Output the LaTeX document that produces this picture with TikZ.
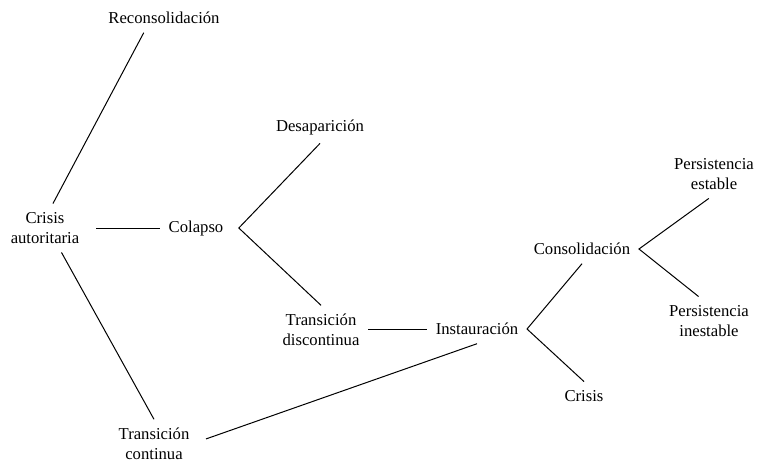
\documentclass[tikz,border=0pt]{standalone}
\usepackage{fontspec}
\setmainfont{Liberation Serif}

\begin{document}
\begin{tikzpicture}[x=0.6pt,y=-0.6pt,line width=0.6pt,
		stage/.style={align=center,inner sep=5pt,font=\fontsize{10}{12}\selectfont}]
		\useasboundingbox (0,0) rectangle (760,461);
		
		% Origin and first branches
		\node[stage] (crisisA) at (45,228) {Crisis\\autoritaria};
		\node[stage] (recons) at (164,18) {Reconsolidación};
		\node[stage] (colapso) at (196,228) {Colapso};
		\node[stage] (tcont) at (154,444) {Transición\\continua};
		
		% Collapse branch
		\node[stage] (desap) at (320,127) {Desaparición};
		\node[stage] (tdisc) at (321,330) {Transición\\discontinua};
		
		% Installation branch
		\node[stage] (instaur) at (477,329) {Instauración};
		\node[stage] (consol) at (582,249) {Consolidación};
		\node[stage] (crisisB) at (584,396) {Crisis};
		
		% Persistence
		\node[stage] (pestable) at (714,174) {Persistencia\\estable};
		\node[stage] (pinest) at (709,321) {Persistencia\\inestable};
		
		% Draw connectors
		\draw (crisisA.72) -- (recons.216);
		\draw[shorten <=5pt] (crisisA.east) -- (colapso.west);
		\draw (crisisA.304) -- (tcont.north);
		
		\draw (desap.south) -- ([xshift=4pt]colapso.east) -- (tdisc.north);
		\draw (instaur.west -| tdisc.east) -- (instaur.west);
		\draw[shorten <=5pt] (tcont.3) -- (instaur.south);
		
		\draw (consol.south) -- (instaur.east) -- (crisisB.north);
		\draw (pestable.258) -- (consol.east) -- (pinest.113);
		
\end{tikzpicture}
\end{document}
